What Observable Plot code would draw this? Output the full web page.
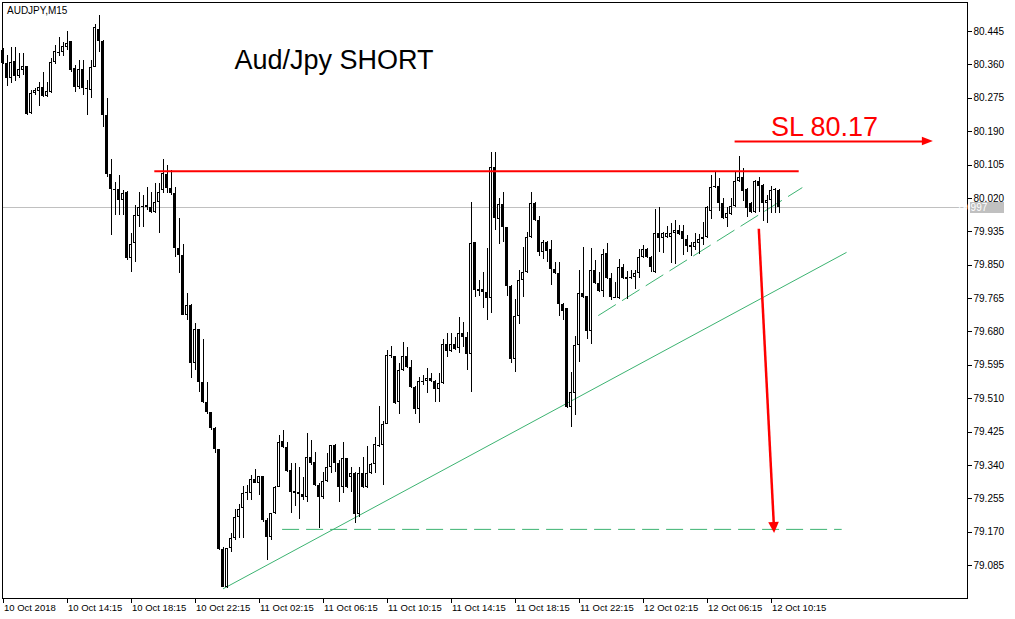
<!DOCTYPE html>
<html><head><meta charset="utf-8">
<script src="https://cdn.jsdelivr.net/npm/d3@7"></script>
<script src="https://cdn.jsdelivr.net/npm/@observablehq/plot@0.6"></script>
<style>html,body{margin:0;padding:0;background:#fff;} #chart svg{display:block}</style>
</head><body><div id="chart"></div>
<script>
// ---- AUDJPY M15 candles, bar 0 = 10 Oct 2018 10:15, one bar per 15 minutes ----
const open = [80.397,80.364,80.325,80.369,80.330,80.346,80.356,80.236,80.287,80.292,
80.302,80.279,80.290,80.366,80.389,80.391,80.404,80.420,80.351,80.302,
80.348,80.300,80.295,80.353,80.450,80.420,80.231,80.081,80.043,80.043,
80.015,80.035,79.867,79.905,79.974,79.997,80.002,79.997,79.984,80.010,
80.040,80.081,80.045,80.032,79.892,79.874,79.722,79.747,79.599,79.686,
79.551,79.500,79.475,79.434,79.380,79.126,79.029,79.128,79.154,79.207,
79.230,79.268,79.268,79.304,79.294,79.312,79.200,79.156,79.217,79.284,
79.401,79.386,79.327,79.273,79.271,79.266,79.258,79.360,79.347,79.289,
79.258,79.299,79.335,79.391,79.345,79.284,79.358,79.309,79.319,79.215,
79.319,79.284,79.319,79.342,79.388,79.391,79.444,79.620,79.617,79.500,
79.581,79.617,79.589,79.538,79.482,79.551,79.554,79.561,79.554,79.533,
79.549,79.648,79.630,79.648,79.638,79.676,79.666,79.622,79.908,79.788,
79.788,79.780,79.765,80.099,79.966,80.004,79.946,79.796,79.610,79.719,
79.811,79.831,79.920,80.007,79.964,79.882,79.908,79.890,79.839,79.829,
79.750,79.740,79.487,79.523,79.645,79.778,79.770,79.681,79.836,79.803,
79.783,79.880,79.816,79.765,79.765,79.844,79.818,79.816,79.818,79.829,
79.869,79.890,79.869,79.831,79.930,79.918,79.920,79.920,79.930,79.938,
79.936,79.915,79.900,79.895,79.905,79.915,79.920,79.987,80.048,80.050,
80.007,79.969,79.979,80.000,80.063,80.073,80.043,80.007,79.984,80.063,
80.053,80.007,80.015,80.040,80.040];
const high = [80.402,80.384,80.404,80.404,80.389,80.389,80.356,80.295,80.300,80.315,
80.341,80.315,80.376,80.409,80.430,80.417,80.445,80.420,80.358,80.371,
80.371,80.320,80.371,80.463,80.486,80.422,80.274,80.119,80.060,80.078,
80.040,80.038,79.930,80.002,80.035,80.027,80.048,80.035,80.058,80.058,
80.119,80.104,80.091,80.048,79.969,79.903,79.778,79.750,79.701,79.686,
79.661,79.551,79.475,79.437,79.380,79.131,79.128,79.167,79.228,79.240,
79.286,79.289,79.314,79.329,79.312,79.312,79.205,79.217,79.286,79.416,
79.429,79.398,79.345,79.345,79.335,79.309,79.421,79.403,79.373,79.294,
79.322,79.370,79.391,79.393,79.352,79.398,79.358,79.335,79.322,79.335,
79.360,79.388,79.345,79.411,79.490,79.452,79.633,79.643,79.617,79.599,
79.653,79.640,79.607,79.541,79.564,79.569,79.587,79.574,79.556,79.574,
79.661,79.676,79.676,79.666,79.717,79.704,79.678,80.010,79.908,79.811,
79.831,79.892,80.137,80.137,80.020,80.035,79.946,79.798,79.762,79.836,
79.895,79.933,80.035,80.010,79.974,79.913,79.910,79.913,79.857,79.857,
79.752,79.740,79.577,79.668,79.836,79.895,79.770,79.892,79.862,79.831,
79.890,79.905,79.829,79.806,79.864,79.852,79.834,79.836,79.836,79.890,
79.900,79.892,79.872,79.992,79.997,79.933,79.948,79.956,79.964,79.951,
79.951,79.925,79.908,79.930,79.928,79.959,80.000,80.078,80.086,80.071,
80.020,79.997,80.020,80.086,80.127,80.096,80.045,80.010,80.066,80.073,
80.055,80.027,80.050,80.045,80.043];
const low = [80.361,80.305,80.313,80.318,80.325,80.333,80.231,80.234,80.282,80.254,
80.277,80.277,80.287,80.361,80.381,80.381,80.397,80.341,80.290,80.297,
80.282,80.231,80.274,80.353,80.391,80.201,80.073,79.925,79.976,79.976,
79.976,79.862,79.831,79.857,79.946,79.946,79.989,79.981,79.981,79.930,
80.032,80.032,80.027,79.869,79.829,79.722,79.709,79.561,79.581,79.526,
79.498,79.470,79.429,79.370,79.123,79.029,79.026,79.118,79.149,79.154,
79.154,79.251,79.251,79.294,79.263,79.195,79.098,79.149,79.215,79.284,
79.383,79.322,79.217,79.235,79.202,79.251,79.245,79.340,79.286,79.179,
79.253,79.296,79.319,79.322,79.245,79.268,79.281,79.271,79.192,79.207,
79.281,79.281,79.317,79.319,79.386,79.289,79.444,79.612,79.495,79.470,
79.579,79.587,79.536,79.470,79.447,79.544,79.523,79.551,79.500,79.500,
79.546,79.615,79.628,79.633,79.625,79.640,79.581,79.526,79.768,79.770,
79.740,79.709,79.727,79.938,79.903,79.908,79.770,79.599,79.577,79.699,
79.768,79.829,79.918,79.961,79.872,79.864,79.857,79.798,79.826,79.719,
79.709,79.485,79.437,79.467,79.602,79.765,79.661,79.648,79.801,79.780,
79.768,79.813,79.760,79.765,79.762,79.813,79.762,79.813,79.788,79.816,
79.867,79.867,79.831,79.829,79.882,79.880,79.918,79.854,79.852,79.925,
79.874,79.882,79.872,79.887,79.877,79.900,79.918,79.966,80.045,79.987,
79.966,79.946,79.976,79.997,80.060,80.012,79.971,79.981,79.981,79.984,
79.961,79.956,79.981,79.981,79.981];
const close = [80.364,80.325,80.366,80.330,80.348,80.356,80.234,80.287,80.295,80.302,
80.279,80.292,80.366,80.394,80.391,80.407,80.414,80.346,80.302,80.348,
80.300,80.297,80.353,80.455,80.420,80.231,80.081,80.043,80.040,80.015,
80.032,79.867,79.903,79.976,79.997,80.000,79.997,79.984,80.010,80.035,
80.083,80.045,80.032,79.892,79.874,79.722,79.747,79.599,79.686,79.551,
79.500,79.475,79.434,79.380,79.126,79.029,79.128,79.154,79.207,79.228,
79.268,79.271,79.304,79.294,79.312,79.200,79.156,79.217,79.284,79.398,
79.386,79.324,79.271,79.271,79.266,79.258,79.360,79.345,79.289,79.258,
79.299,79.335,79.391,79.345,79.284,79.358,79.284,79.319,79.215,79.319,
79.284,79.319,79.342,79.393,79.391,79.444,79.620,79.617,79.498,79.581,
79.617,79.589,79.538,79.482,79.554,79.554,79.561,79.554,79.533,79.549,
79.648,79.630,79.648,79.635,79.676,79.666,79.622,79.905,79.785,79.783,
79.780,79.765,80.099,79.969,80.004,79.946,79.796,79.610,79.719,79.811,
79.831,79.920,80.007,79.964,79.882,79.908,79.885,79.839,79.829,79.750,
79.732,79.487,79.526,79.645,79.778,79.768,79.681,79.836,79.803,79.783,
79.877,79.816,79.768,79.768,79.844,79.816,79.816,79.818,79.829,79.869,
79.890,79.869,79.844,79.930,79.918,79.930,79.930,79.930,79.938,79.928,
79.915,79.897,79.895,79.908,79.915,79.920,79.997,80.048,80.050,80.007,
79.969,79.981,80.000,80.063,80.073,80.038,79.994,79.984,80.063,80.050,
80.007,80.015,80.040,80.042,79.997];

// ---- axis ticks ----
const priceTicks = [80.445,80.360,80.275,80.190,80.105,80.020,79.935,79.850,79.765,79.680,79.595,79.510,79.425,79.340,79.255,79.170,79.085];
const timeTickBars = [0,16,32,48,64,80,96,112,128,144,160,176,192];
const timeTickLabels = ["10 Oct 2018","10 Oct 14:15","10 Oct 18:15","10 Oct 22:15","11 Oct 02:15","11 Oct 06:15","11 Oct 10:15","11 Oct 14:15","11 Oct 18:15","11 Oct 22:15","12 Oct 02:15","12 Oct 06:15","12 Oct 10:15"];

// ---- drawn annotations (bar index, price) ----
const resistance = [{from: 37.95, to: 199.05, p: 80.089}];
const targetLevel = [{from: 69.9, to: 209.8, p: 79.177}];
const trendLow = [{i: 55.1, p: 79.026}, {i: 210.8, p: 79.882}];
const trendHigh = [{i: 148.9, p: 79.722}, {i: 199.75, p: 80.047}];
const slArrow = [{i: 182.9, p: 80.165}, {i: 230.0, p: 80.165}];
const slTip = {i: 232.6, p: 80.165};
const dropArrow = [{i: 188.95, p: 79.9425}, {i: 192.7, p: 79.190}];
const dropTip = {i: 192.9, p: 79.1665};
const symbolText = "AUDJPY,M15";
const titleText = "Aud/Jpy SHORT";
const slText = "SL 80.17";

const candles = open.map((o, i) => ({i, open: o, high: high[i], low: low[i], close: close[i]}));
const bulls = candles.filter(d => d.close >= d.open);
const dojis = candles.filter(d => Math.abs(d.close - d.open) < 0.002);
const lastPrice = close[close.length - 1];
const labelOf = new Map(timeTickBars.map((b, k) => [b, timeTickLabels[k]]));
const NS = "http://www.w3.org/2000/svg";
const RED = "#ff0000", GREEN = "#3cb371";
const FONT = '"Liberation Sans", Arial, sans-serif';

function arrowHead(from, tip, len, half, color) {
  return (index, scales) => {
    const x0 = scales.x(from.i), y0 = scales.y(from.p), x1 = scales.x(tip.i), y1 = scales.y(tip.p);
    const d = Math.hypot(x1 - x0, y1 - y0), ux = (x1 - x0) / d, uy = (y1 - y0) / d;
    const bx = x1 - ux * len, by = y1 - uy * len;
    const path = document.createElementNS(NS, "path");
    path.setAttribute("d", `M${x1},${y1}L${bx - uy * half},${by + ux * half}L${bx + uy * half},${by - ux * half}Z`);
    path.setAttribute("fill", color);
    return path;
  };
}
function priceLabel(index, scales, values, dims) {
  const g = document.createElementNS(NS, "g");
  const y = Math.round(scales.y(lastPrice));
  const x = dims.width - dims.marginRight + 3;
  const r = document.createElementNS(NS, "rect");
  r.setAttribute("x", x); r.setAttribute("y", y - 5);
  r.setAttribute("width", 34); r.setAttribute("height", 11);
  r.setAttribute("fill", "#c0c0c0");
  const t = document.createElementNS(NS, "text");
  t.setAttribute("x", x + 2); t.setAttribute("y", y + 4);
  t.setAttribute("style", `fill:#ffffff;font-size:10px;font-family:${FONT}`);
  t.textContent = lastPrice.toFixed(3);
  g.append(r, t);
  return g;
}

const chart = Plot.plot({
  width: 1015, height: 619,
  marginLeft: 2, marginRight: 48, marginTop: 2, marginBottom: 21,
  style: {fontFamily: FONT, fontSize: "10px", background: "#fff", color: "#000", overflow: "visible"},
  x: {type: "linear", domain: [0, 192], range: [2.5, 770.5]},
  y: {type: "linear", domain: [79.085, 80.445], range: [565, 31]},
  marks: [
    Plot.ruleY([lastPrice], {stroke: "#c0c0c0", shapeRendering: "crispEdges"}),
    Plot.ruleY(targetLevel, {y: "p", x1: "from", x2: "to", stroke: GREEN, strokeDasharray: "17,7"}),
    Plot.line(trendLow, {x: "i", y: "p", stroke: GREEN, strokeWidth: 1}),
    Plot.line(trendHigh, {x: "i", y: "p", stroke: GREEN, strokeWidth: 1, strokeDasharray: "20,8"}),
    // candles
    Plot.ruleX(candles, {x: "i", y1: "low", y2: "high", stroke: "#000", shapeRendering: "crispEdges"}),
    Plot.rect(candles, {x1: d => d.i - 0.375, x2: d => d.i + 0.375, y1: "open", y2: "close", fill: "#000", shapeRendering: "crispEdges"}),
    Plot.ruleY(dojis, {y: "close", x1: d => d.i - 0.375, x2: d => d.i + 0.375, stroke: "#000", shapeRendering: "crispEdges"}),
    Plot.rect(bulls, {x1: d => d.i - 0.125, x2: d => d.i + 0.125, y1: "open", y2: "close", insetTop: 1, insetBottom: 1, fill: "#fff", shapeRendering: "crispEdges"}),
    // red annotations
    Plot.ruleY(resistance, {y: "p", x1: "from", x2: "to", stroke: RED, strokeWidth: 2}),
    Plot.line(slArrow, {x: "i", y: "p", stroke: RED, strokeWidth: 2, strokeLinecap: "butt"}),
    arrowHead(slArrow[0], slTip, 11, 4.2, RED),
    Plot.line(dropArrow, {x: "i", y: "p", stroke: RED, strokeWidth: 2.5, strokeLinecap: "butt"}),
    arrowHead(dropArrow[0], dropTip, 11, 5.3, RED),
    Plot.text([slText], {text: d => d, frameAnchor: "top-left", dx: 768.5, dy: 133.7, lineAnchor: "bottom", textAnchor: "start", fontSize: 27, fill: RED}),
    Plot.text([titleText], {text: d => d, frameAnchor: "top-left", dx: 232, dy: 66, lineAnchor: "bottom", textAnchor: "start", fontSize: 27, fill: "#000"}),
    Plot.text([symbolText], {text: d => d, frameAnchor: "top-left", dx: 4.5, dy: 11.5, lineAnchor: "bottom", textAnchor: "start", fontSize: 10, fill: "#000"}),
    // axes
    Plot.frame({stroke: "#000", shapeRendering: "crispEdges"}),
    Plot.axisY(priceTicks, {anchor: "right", tickSize: 4, tickPadding: 2, fontSize: 10, tickFormat: d => d.toFixed(3), label: null, shapeRendering: "crispEdges"}),
    Plot.axisX(timeTickBars, {anchor: "bottom", tickSize: 5, fill: "none", label: null, shapeRendering: "crispEdges"}),
    Plot.axisX(timeTickBars, {anchor: "bottom", tickSize: 0, tickPadding: 6, fontSize: 9.5, textAnchor: "start", dx: 1, tickFormat: d => labelOf.get(d), label: null}),
    priceLabel
  ]
});
document.getElementById("chart").append(chart);
</script></body></html>
